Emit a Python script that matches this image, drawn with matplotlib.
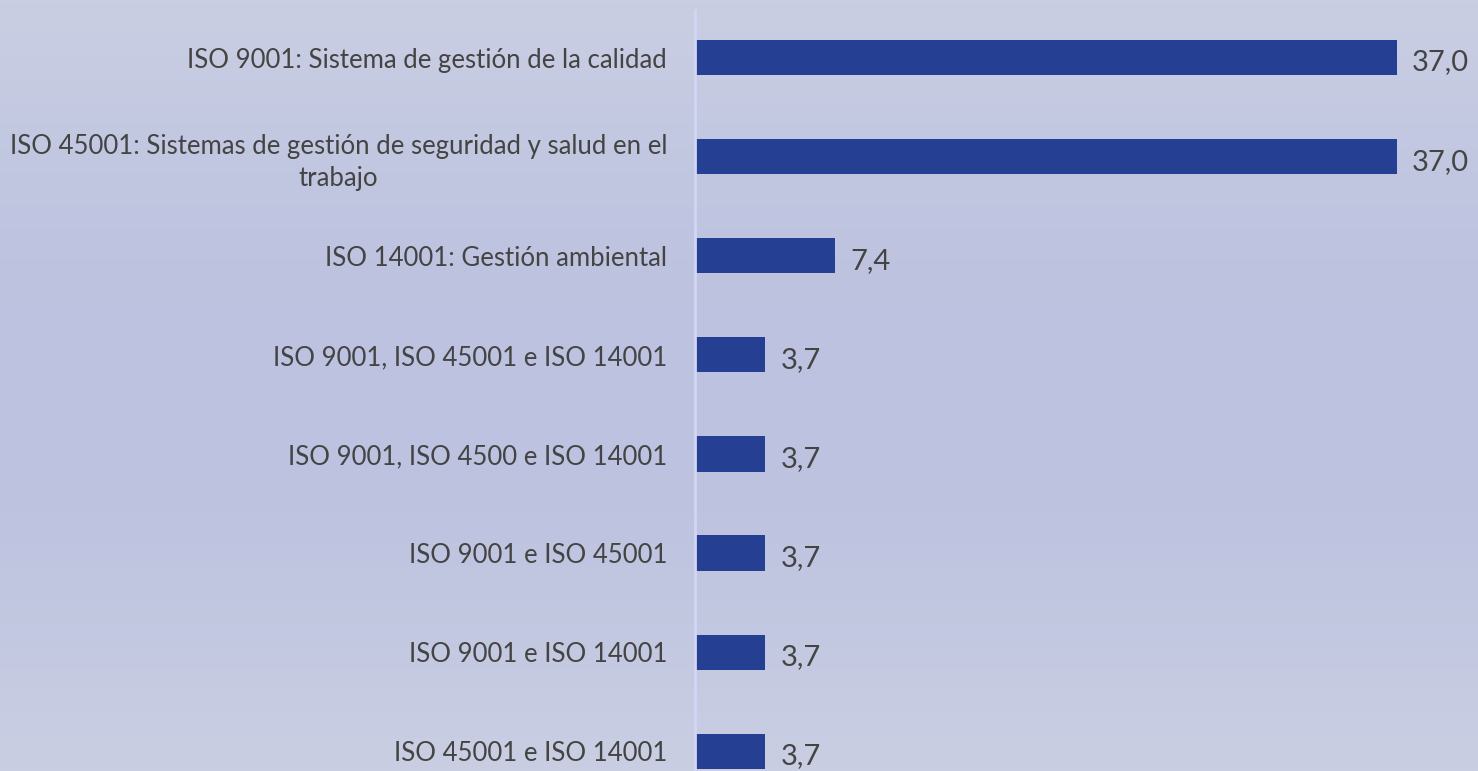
import matplotlib.pyplot as plt
import numpy as np

# datos
categorias = [
    "ISO 9001: Sistema de gestión de la calidad",
    "ISO 45001: Sistemas de gestión de seguridad y salud en el\ntrabajo",
    "ISO 14001: Gestión ambiental",
    "ISO 9001, ISO 45001 e ISO 14001",
    "ISO 9001, ISO 4500 e ISO 14001",
    "ISO 9001 e ISO 45001",
    "ISO 9001 e ISO 14001",
    "ISO 45001 e ISO 14001",
]
valores = [37.0, 37.0, 7.4, 3.7, 3.7, 3.7, 3.7, 3.7]

W, H = 1478, 771
fig = plt.figure(figsize=(W / 100, H / 100), dpi=100)

# fondo con degradado vertical
bg = fig.add_axes([0, 0, 1, 1], zorder=0)
t = np.linspace(0, 1, 256)
c_top = np.array([201, 206, 227]) / 255
c_mid = np.array([188, 194, 223]) / 255
w = np.sin(np.pi * t) ** 1.2
grad = c_top[None, :] * (1 - w[:, None]) + c_mid[None, :] * w[:, None]
bg.imshow(grad[:, None, :], aspect="auto", extent=[0, 1, 0, 1])
bg.axis("off")

ax = fig.add_axes([695 / W, 0, 1 - 695 / W, 1 - 10 / H], zorder=1)
ax.patch.set_alpha(0)
y = np.arange(len(categorias))
ax.barh(y, valores, height=0.355, color="#253f92")
ax.set_ylim(7.2, -0.48)
ax.set_xlim(0, (W - 695) / 18.97)

for yi, v in zip(y, valores):
    ax.text(v + 0.8, yi + 0.05, f"{v:.1f}".replace(".", ","), va="center", ha="left",
            fontsize=21, color="#444444", family="Lato")

ax.set_yticks(y)
ax.set_yticklabels(categorias, fontsize=18.5, color="#444444", family="Lato",
                   multialignment="center", linespacing=1.35)
ax.tick_params(axis="y", length=0, pad=20)
ax.set_xticks([])
for s in ["top", "right", "bottom"]:
    ax.spines[s].set_visible(False)
ax.spines["left"].set_color("#d2d6f4")
ax.spines["left"].set_linewidth(2)

fig.savefig("out.png", dpi=100)
